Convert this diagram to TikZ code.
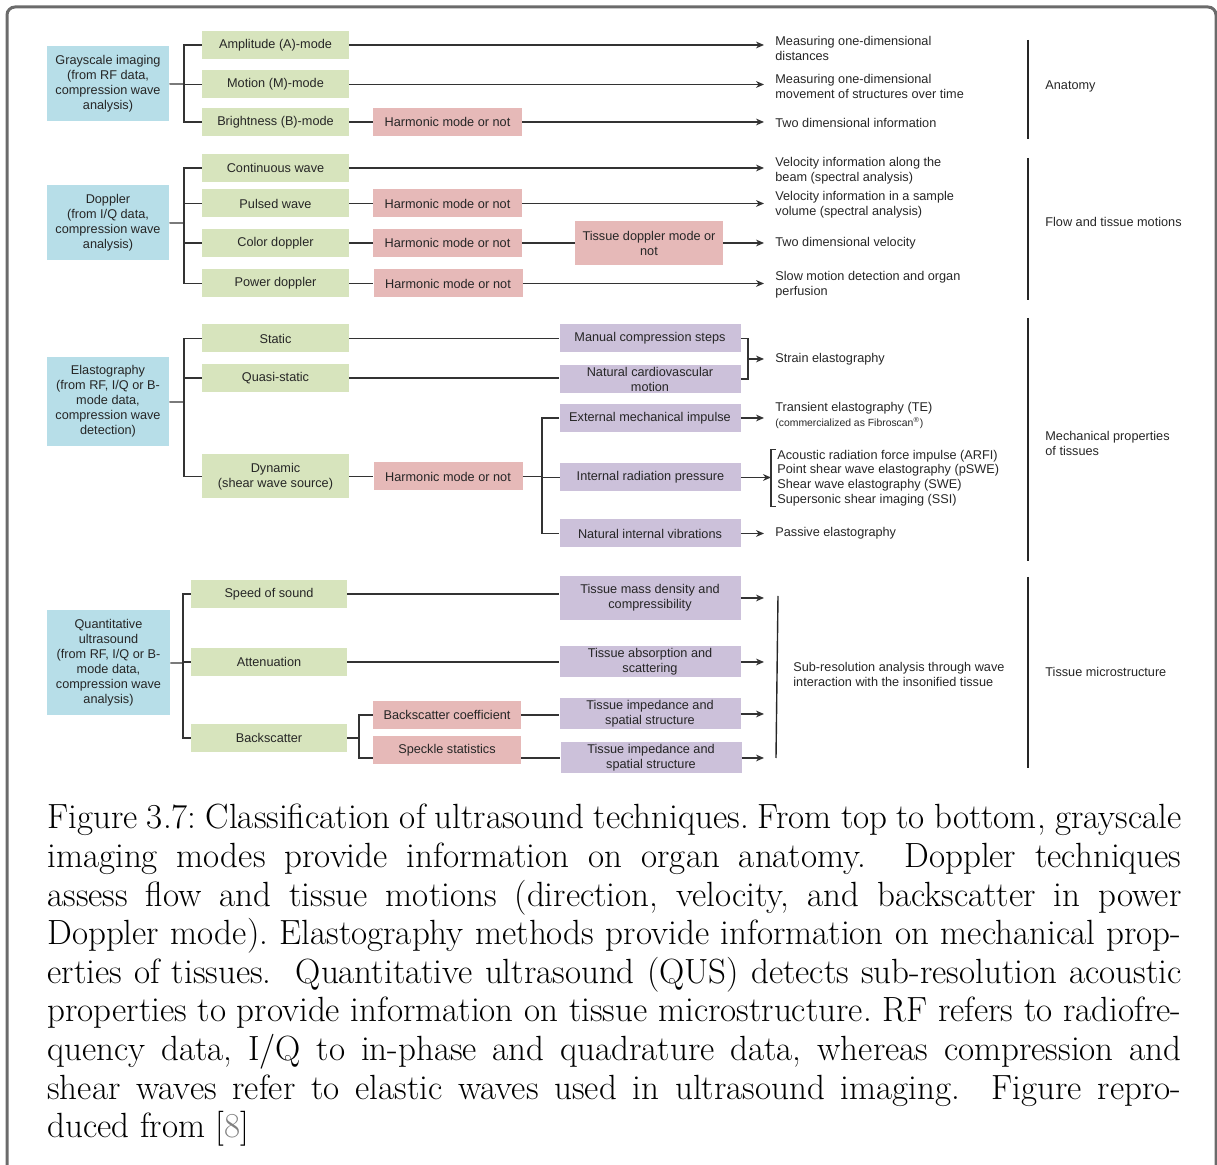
\documentclass[tikz,border=0pt]{standalone}
\usepackage{fontspec}
\usepackage{xcolor}
\newfontfamily\diafont{Liberation Sans}
\usetikzlibrary{arrows.meta}
\usetikzlibrary{calc}

\definecolor{srcblue}{HTML}{B7DEE8}
\definecolor{modegreen}{HTML}{D7E4BD}
\definecolor{optred}{HTML}{E6B9B8}
\definecolor{physpurple}{HTML}{CCC1DA}
\definecolor{framegray}{HTML}{6B6B6B}

\begin{document}
\begin{tikzpicture}[x=0.5pt, y=-0.5pt,
    every node/.style={font=\diafont\fontsize{6.35}{7.5}\selectfont, text=black!85, inner sep=0pt, align=center},
    srcbox/.style={fill=srcblue, minimum width=61pt},
    modebox/.style={fill=modegreen, minimum width=73.5pt, minimum height=14pt},
    optbox/.style={fill=optred, minimum width=74.5pt, minimum height=14pt},
    physbox/.style={fill=physpurple, minimum width=90.5pt, minimum height=14pt},
    lbl/.style={anchor=west, inner xsep=5.5pt, align=left},
    group/.style={anchor=west, align=left},
    conn/.style={line width=0.6pt, draw=black!80},
    sep/.style={line width=0.7pt, draw=black!85},
    >={Stealth[length=4pt,width=3.4pt]}]

  \useasboundingbox (0,0) rectangle (1217,1165);
  \clip (0,0) rectangle (1217,1165);
  \draw[framegray, line width=1.5pt, rounded corners=4pt] (7,7) rectangle (1216,1200);

  % grayscale imaging
  \node[srcbox, minimum height=37.5pt] (gray) at (108,83.5) {Grayscale imaging\\(from RF data,\\compression wave\\analysis)};
  \node[modebox] (amode) at (275.5,45) {Amplitude (A)-mode};
  \node[modebox] (mmode) at (275.5,84.5) {Motion (M)-mode};
  \node[modebox] (bmode) at (275.5,122) {Brightness (B)-mode};
  \node[optbox] (bharm) at (447.5,122) {Harmonic mode or not};

  \node[lbl] (dist) at (764,48) {Measuring one-dimensional\\distances};
  \node[lbl] (move) at (764,86.5) {Measuring one-dimensional\\movement of structures over time};
  \node[lbl] (info2d) at (764,122.5) {Two dimensional information};

  \coordinate (gfork) at (184,84);
  \draw[conn] (gray) -- (gfork);
  \draw[conn] (amode) -| (gfork) |- (bmode);
  \draw[conn] (mmode) -- (mmode -| gfork);
  \draw[conn] (bmode) -- (bharm);
  \draw[conn,->] (amode) -- (amode -| dist.west);
  \draw[conn,->] (mmode) -- (mmode -| move.west);
  \draw[conn,->] (bharm) -- (bharm -| info2d.west);

  \draw[sep] (1028,40) -- (1028,139);
  \node[group] (anat) at (1045,86) {Anatomy};

  % doppler
  \node[srcbox, minimum height=37.5pt] (dop) at (108,222.5) {Doppler\\(from I/Q data,\\compression wave\\analysis)};
  \node[modebox] (cw) at (275.5,168) {Continuous wave};
  \node[modebox] (pw) at (275.5,203.5) {Pulsed wave};
  \node[modebox] (cdop) at (275.5,243) {Color doppler};
  \node[modebox] (pdop) at (275.5,283.5) {Power doppler};
  \node[optbox] (pwharm) at (447.5,203.5) {Harmonic mode or not};
  \node[optbox] (cdharm) at (447.5,243) {Harmonic mode or not};
  \node[optbox] (pdharm) at (448,283.5) {Harmonic mode or not};
  \node[optbox, minimum width=74pt, minimum height=22pt] (tdi) at (649,243) {Tissue doppler mode or\\not};

  \node[lbl] (vbeam) at (764,170.5) {Velocity information along the\\beam (spectral analysis)};
  \node[lbl] (vsample) at (764,204.5) {Velocity information in a sample\\volume (spectral analysis)};
  \node[lbl] (vel2d) at (764,243) {Two dimensional velocity};
  \node[lbl] (perf) at (764,284.5) {Slow motion detection and organ\\perfusion};

  \coordinate (dfork) at (184,223);
  \draw[conn] (dop) -- (dfork);
  \draw[conn] (cw) -| (dfork) |- (pdop);
  \foreach \m in {pw, cdop}
    \draw[conn] (\m) -- (\m -| dfork);
  \foreach \a/\b in {pw/pwharm, cdop/cdharm, pdop/pdharm, cdharm/tdi}
    \draw[conn] (\a) -- (\b);
  \draw[conn,->] (cw) -- (cw -| vbeam.west);
  \draw[conn,->] (pwharm) -- (pwharm -| vsample.west);
  \draw[conn,->] (tdi) -- (tdi -| vel2d.west);
  \draw[conn,->] (pdharm) -- (pdharm -| perf.west);

  \draw[sep] (1028,158) -- (1028,300);
  \node[group] (flow) at (1045,222) {Flow and tissue motions};

  % elastography
  \node[srcbox, minimum height=44.5pt] (elast) at (108,401.5) {Elastography\\(from RF, I/Q or B-\\mode data,\\compression wave\\detection)};
  \node[modebox] (static) at (275.5,338.5) {Static};
  \node[modebox] (qstatic) at (275.5,378) {Quasi-static};
  \node[modebox, minimum height=22pt] (dyn) at (275.5,476.5) {Dynamic\\(shear wave source)};
  \node[optbox] (dynharm) at (448,476.5) {Harmonic mode or not};
  \node[physbox] (manual) at (650,338.5) {Manual compression steps};
  \node[physbox] (cardio) at (650,379) {Natural cardiovascular\\motion};
  \node[physbox] (extimp) at (650,418) {External mechanical impulse};
  \node[physbox] (radp) at (650.5,477.5) {Internal radiation pressure};
  \node[physbox] (intvib) at (650,533.5) {Natural internal vibrations};

  \node[lbl] (strain) at (764,359) {Strain elastography};
  \node[lbl] (te) at (764,415.5) {Transient elastography (TE)\\{\fontsize{5.2}{6}\selectfont (commercialized as Fibroscan\textsuperscript{®})}};
  \node[group, font=\diafont\fontsize{6.35}{7.35}\selectfont] (swe) at (777,478) {Acoustic radiation force impulse (ARFI)\\Point shear wave elastography (pSWE)\\Shear wave elastography (SWE)\\Supersonic shear imaging (SSI)};
  \node[lbl] (passive) at (764,533.5) {Passive elastography};

  \coordinate (efork) at (184,402);
  \draw[conn] (elast) -- (efork);
  \draw[conn] (static) -| (efork) |- (dyn);
  \draw[conn] (qstatic) -- (qstatic -| efork);
  \draw[conn] (static) -- (static -| manual.west);
  \draw[conn] (qstatic) -- (qstatic -| cardio.west);
  \draw[conn] (dyn) -- (dynharm);

  \coordinate (strjoin) at (748,359);
  \draw[conn] (manual) -| (strjoin) |- (cardio);
  \draw[conn,->] (strjoin) -- (strain.west);

  \coordinate (sfork) at (542,476.5);
  \draw[conn] (dynharm) -- (sfork);
  \draw[conn] (extimp) -| (sfork) |- (intvib);
  \draw[conn] (radp) -- (radp -| sfork);
  \draw[conn,->] (extimp) -- (extimp -| te.west);
  \draw[conn] ([xshift=-0.5pt]swe.north west) -- ++(-2.5pt,0) |- ([xshift=-0.5pt]swe.south west);
  \draw[conn,->] (radp) -- ([xshift=-3pt]radp -| swe.west);
  \draw[conn,->] (intvib) -- (intvib -| passive.west);

  \draw[sep] (1028,318) -- (1028,561);
  \node[group] (mech) at (1045,443.5) {Mechanical properties\\of tissues};

  % quantitative ultrasound
  \node[srcbox, minimum width=61.5pt, minimum height=52.5pt] (qus) at (108.5,662.5) {Quantitative\\ultrasound\\(from RF, I/Q or B-\\mode data,\\compression wave\\analysis)};
  \node[modebox, minimum width=78pt] (sos) at (269,594) {Speed of sound};
  \node[modebox, minimum width=78pt] (atten) at (269,662) {Attenuation};
  \node[modebox, minimum width=78pt] (bsc) at (269,738) {Backscatter};
  \node[optbox, minimum width=74pt] (bscoef) at (447,715) {Backscatter coefficient};
  \node[optbox, minimum width=74pt] (speckle) at (447,750) {Speckle statistics};
  \node[physbox, minimum height=22pt] (density) at (650,598) {Tissue mass density and\\compressibility};
  \node[physbox, minimum height=15.5pt] (absorb) at (650,662) {Tissue absorption and\\scattering};
  \node[physbox, minimum height=15.5pt] (imped1) at (650,714) {Tissue impedance and\\spatial structure};
  \node[physbox, minimum height=15.5pt] (imped2) at (651,758) {Tissue impedance and\\spatial structure};

  \coordinate (qfork) at (183,663);
  \draw[conn] (qus) -- (qfork);
  \draw[conn] (sos) -| (qfork) |- (bsc);
  \draw[conn] (atten) -- (atten -| qfork);
  \draw[conn] (sos) -- (sos -| density.west);
  \draw[conn] (atten) -- (absorb);

  \coordinate (bfork) at (359,738);
  \draw[conn] (bsc) -- (bfork);
  \draw[conn] (bscoef) -| (bfork) |- (speckle.west |- imped2);
  \draw[conn] (bscoef) -- (bscoef -| imped1.west);
  \draw[conn] (speckle.east |- imped2) -- (imped2);

  \coordinate (qend) at (764,0);
  \foreach \t in {density, absorb, imped1, imped2}
    \draw[conn,->] (\t) -- (\t -| qend);

  \draw[sep] (778,596) -- (776,758);
  \node[group] (subres) at (793,674.5) {Sub-resolution analysis through wave\\interaction with the insonified tissue};
  \draw[sep] (1028,577) -- (1028,768);
  \node[group] (micro) at (1045,672) {Tissue microstructure};

  % caption
  \node[anchor=north west, text width=567pt, align=justify, text=black,
        font=\rmfamily\fontsize{17.5}{19.3}\selectfont\frenchspacing] (caption) at (47,804) {Figure 3.7: Classification of ultrasound techniques. From top to bottom, grayscale\linebreak
    imaging modes provide information on organ anatomy.\ \ Doppler techniques\linebreak
    assess flow and tissue motions (direction, velocity, and backscatter in power\linebreak
    Doppler mode). Elastography methods provide information on mechanical prop-\linebreak
    erties of tissues.\ \ Quantitative ultrasound (QUS) detects sub-resolution acoustic\linebreak
    properties to provide information on tissue microstructure. RF refers to radiofre-\linebreak
    quency data, I/Q to in-phase and quadrature data, whereas compression and\linebreak
    shear waves refer to elastic waves used in ultrasound imaging.\ \ Figure repro-\linebreak
    duced from [\textcolor{gray}{8}]};
\end{tikzpicture}
\end{document}
